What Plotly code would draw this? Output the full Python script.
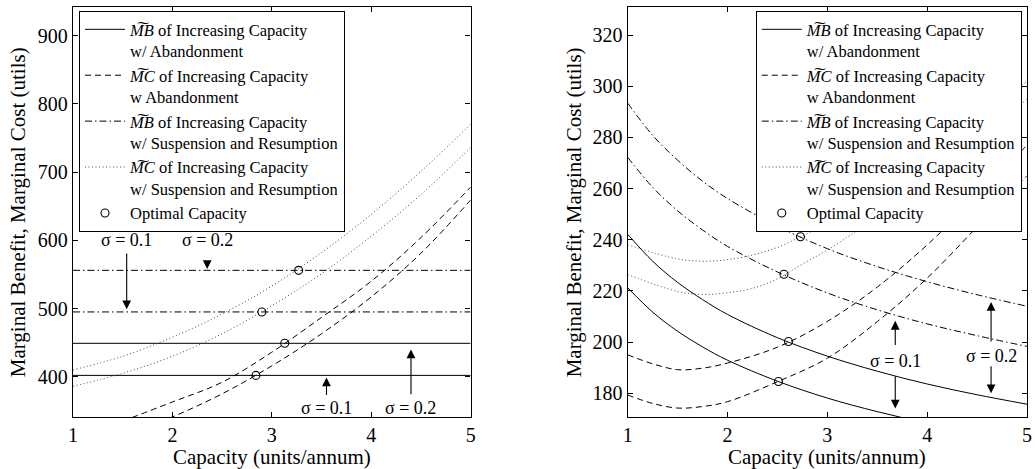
import plotly.graph_objects as go

# ---------------- data: left panel (sigma = 0.1 / 0.2) ----------------
x_h = [1, 5]
L_mb_ab_s1 = [402, 402]
L_mb_ab_s2 = [449, 449]
L_mb_ss_s1 = [495, 495]
L_mb_ss_s2 = [556, 556]

L_mc_x = [1.5, 2, 2.5, 3, 3.5, 4, 4.5, 5]
L_mc_ab_s2 = [335, 363, 392, 436, 487, 540, 604, 678]
L_mc_ab_s1 = [312, 341, 375, 416, 463, 517, 581, 659]

L_ms_x = [1, 1.5, 2, 2.5, 3, 3.5, 4, 4.5, 5]
L_mc_ss_s2 = [410, 430, 458, 492, 533, 582, 638, 701, 770]
L_mc_ss_s1 = [386, 405, 430, 463, 504, 551, 606, 667, 736]

L_opt_x = [2.84, 3.13, 2.90, 3.27]
L_opt_y = [402, 449, 495, 556]

# ---------------- data: right panel ----------------
R_x = [1, 1.25, 1.5, 1.75, 2, 2.5, 3, 3.5, 4, 4.5, 5]
R_mb_ab_s2 = [242.1, 231.6, 223.3, 216.6, 210.8, 201.7, 194.5, 188.6, 183.6, 179.4, 175.7]
R_mb_ab_s1 = [221.2, 211.7, 204.2, 198.1, 192.9, 184.7, 178.1, 172.8, 168.3, 164.6, 161.1]
R_mc_ab_s2 = [195.0, 191.5, 189.2, 189.8, 191.8, 198.0, 208.1, 221.5, 238.0, 257.0, 277.0]
R_mc_ab_s1 = [179.3, 176.0, 174.2, 174.8, 176.7, 184.5, 193.7, 208.0, 225.0, 245.0, 265.0]
R_mb_ss_s2 = [293.4, 280.8, 271.1, 262.9, 256.1, 245.3, 236.5, 229.5, 223.6, 218.5, 214.0]
R_mb_ss_s1 = [272.2, 260.5, 251.3, 243.8, 237.4, 227.4, 219.2, 212.6, 207.1, 202.5, 198.3]
R_ms_x = [1, 1.5, 1.75, 2, 2.25, 2.5, 2.75, 3, 3.5, 4, 4.5, 5]
R_mc_ss_s2 = [238.0, 232.5, 231.6, 232.2, 234.0, 237.0, 241.5, 246.5, 258.0, 271.0, 286.0, 302.0]
R_mc_ss_s1 = [226.4, 219.8, 218.6, 219.3, 221.0, 224.7, 230.5, 236.0, 249.0, 263.0, 278.0, 295.0]

R_opt_x = [2.61, 2.51, 2.73, 2.565]
R_opt_y = [200.2, 184.6, 241.2, 226.5]

# sigma labels and arrows: (text x, text y), arrows (x, tail y, head y)
L_lab_x = [1.54, 2.35, 3.55, 4.40]
L_lab_y = [600, 600, 354, 354]
L_arr_x = [1.54, 2.35, 3.55, 4.40]
L_arr_tail = [583, 571, 371, 372]
L_arr_head = [499, 558, 399, 440]

R_lab_x = [3.68, 4.64]
R_lab_y = [192.7, 194.4]
R_arr_x = [3.68, 3.68, 4.64, 4.64]
R_arr_tail = [198.3, 187.2, 199.6, 191.1]
R_arr_head = [208.3, 174.0, 215.7, 180.0]

labels = [
    "<i>M\u0360B</i> of Increasing Capacity<br>w/ Abandonment",
    "<i>M\u0360C</i> of Increasing Capacity<br>w Abandonment",
    "<i>M\u0360B</i> of Increasing Capacity<br>w/ Suspension and Resumption",
    "<i>M\u0360C</i> of Increasing Capacity<br>w/ Suspension and Resumption",
    "Optimal Capacity",
]
x_title = "Capacity (units/annum)"
y_title = "Marginal Benefit, Marginal Cost (utils)"

FONT = "Liberation Serif"
styles = [
    dict(color="black", width=1),
    dict(color="black", width=1, dash="6px,4px"),
    dict(color="black", width=1, dash="7px,3px,1.5px,3px"),
    dict(color="#444", width=1, dash="1px,2.5px"),
]

fig = go.Figure()


def add_panel(xa, ya, leg, series, optx, opty):
    for i, (xs, ys_list) in enumerate(series):
        for j, ys in enumerate(ys_list):
            fig.add_trace(go.Scatter(
                x=xs, y=ys, mode="lines", line=dict(styles[i], shape="spline", smoothing=1.0),
                name=labels[i], legendgroup=f"{leg}{i}", showlegend=(j == 0),
                xaxis=xa, yaxis=ya, legend=leg, hoverinfo="skip"))
    fig.add_trace(go.Scatter(
        x=optx, y=opty, mode="markers",
        marker=dict(symbol="circle-open", size=8, color="black", line=dict(width=1.1)),
        name=labels[4], xaxis=xa, yaxis=ya, legend=leg, hoverinfo="skip"))


add_panel("x", "y", "legend", [
    (x_h, [L_mb_ab_s1, L_mb_ab_s2]),
    (L_mc_x, [L_mc_ab_s1, L_mc_ab_s2]),
    (x_h, [L_mb_ss_s1, L_mb_ss_s2]),
    (L_ms_x, [L_mc_ss_s1, L_mc_ss_s2]),
], L_opt_x, L_opt_y)

add_panel("x2", "y2", "legend2", [
    (R_x, [R_mb_ab_s1, R_mb_ab_s2]),
    (R_x, [R_mc_ab_s1, R_mc_ab_s2]),
    (R_x, [R_mb_ss_s1, R_mb_ss_s2]),
    (R_ms_x, [R_mc_ss_s1, R_mc_ss_s2]),
], R_opt_x, R_opt_y)

annotations = []
sig_text = ["\u03c3 = 0.1", "\u03c3 = 0.2", "\u03c3 = 0.1", "\u03c3 = 0.2"]
arrow_style = dict(text="", showarrow=True, arrowhead=2, arrowsize=1.6, arrowwidth=1.1,
                   arrowcolor="black", standoff=0)
for k in range(4):
    annotations.append(dict(x=L_lab_x[k], y=L_lab_y[k], xref="x", yref="y", text=sig_text[k],
                            showarrow=False, font=dict(size=18, family=FONT, color="black")))
    annotations.append(dict(arrow_style, x=L_arr_x[k], y=L_arr_head[k], ax=L_arr_x[k], ay=L_arr_tail[k],
                            xref="x", yref="y", axref="x", ayref="y"))
for k in range(2):
    annotations.append(dict(x=R_lab_x[k], y=R_lab_y[k], xref="x2", yref="y2", text=sig_text[k],
                            showarrow=False, font=dict(size=18, family=FONT, color="black")))
for k in range(4):
    annotations.append(dict(arrow_style, x=R_arr_x[k], y=R_arr_head[k], ax=R_arr_x[k], ay=R_arr_tail[k],
                            xref="x2", yref="y2", axref="x2", ayref="y2"))

# axis titles as annotations for exact placement
for xr in ["x domain", "x2 domain"]:
    annotations.append(dict(x=0.5, xref=xr, y=-0.0976, yref="paper", yanchor="middle",
                            text=x_title, showarrow=False,
                            font=dict(size=21, family=FONT, color="black")))
for xp in [-0.0574, 0.5255]:
    annotations.append(dict(x=xp, xref="paper", y=0.5, yref="paper", xanchor="center",
                            yanchor="middle", textangle=-90, text=y_title, showarrow=False,
                            font=dict(size=21, family=FONT, color="black")))

axis_common = dict(showline=True, linecolor="black", linewidth=1.3, mirror="ticks", ticks="inside",
                   ticklen=5, tickcolor="black", showgrid=False, zeroline=False,
                   tickfont=dict(size=20, family=FONT, color="black"))

legend_common = dict(bgcolor="white", bordercolor="black", borderwidth=1, tracegroupgap=0,
                     itemwidth=40,
                     font=dict(size=16.5, family=FONT, color="black"), valign="top",
                     yanchor="top", y=0.99)

fig.update_layout(
    width=1035, height=469,
    margin=dict(l=73, r=3, t=7, b=52),
    paper_bgcolor="white", plot_bgcolor="white",
    font=dict(family=FONT, color="black"),
    xaxis=dict(axis_common, domain=[0, 0.4168], range=[1, 5], tickvals=[1, 2, 3, 4, 5]),
    yaxis=dict(axis_common, range=[341, 942], tickvals=[400, 500, 600, 700, 800, 900]),
    xaxis2=dict(axis_common, domain=[0.5815, 1.0], range=[1, 5], tickvals=[1, 2, 3, 4, 5], anchor="y2"),
    yaxis2=dict(axis_common, range=[170.7, 331], tickvals=[180, 200, 220, 240, 260, 280, 300, 320],
                anchor="x2"),
    legend=dict(legend_common, x=0.0063, xanchor="left"),
    legend2=dict(legend_common, x=0.9945, xanchor="right"),
    annotations=annotations,
)

fig.write_html("out.html", config={"displayModeBar": False},
               post_script="document.body.style.margin='0';document.body.style.overflow='hidden';")
